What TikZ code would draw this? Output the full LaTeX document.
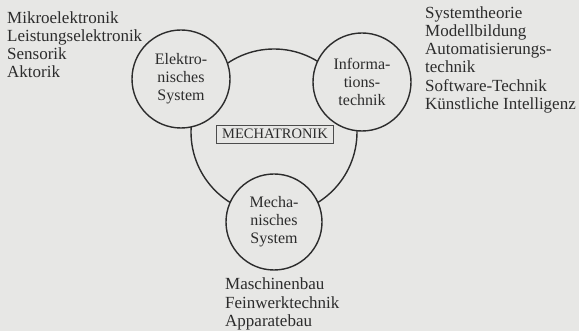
\documentclass[tikz,border=0pt]{standalone}
\usepackage{fontspec}
\setmainfont{Liberation Serif}
\definecolor{paper}{HTML}{E7E7E5}
\definecolor{ink}{HTML}{2C2C2C}
\begin{document}
\begin{tikzpicture}[x=1pt,y=-1pt,
  every node/.style={text=ink},
  disc/.style={circle, draw=ink, line width=1.4pt, fill=paper,
    minimum size=98pt, inner sep=0pt, align=center,
    font=\fontsize{16}{18}\selectfont},
  fieldlist/.style={align=left, inner sep=0pt,
    font=\fontsize{17}{18.2}\selectfont},
  mtbox/.style={draw=ink!85, line width=0.7pt, fill=paper,
    font=\fontsize{14.5}{15}\selectfont, inner xsep=6pt, inner ysep=4pt}]
\fill[paper] (0,0) rectangle (579,331);
\useasboundingbox (0,0) rectangle (579,331);
% large ring joining the three disciplines
\node[circle, draw=ink, line width=1.4pt, minimum size=166pt, inner sep=0pt] (ring) at (274,132) {};
% the three disciplines
\node[disc] (el) at (181,79) {Elektro-\\nisches\\System};
\node[disc] (inf) at (362,82) {Informa-\\tions-\\technik};
\node[disc, minimum size=96pt] (mech) at (274,222) {Mecha-\\nisches\\System};
\node[mtbox] (mt) at (275,134) {MECHATRONIK};
% fields belonging to each discipline
\node[fieldlist, anchor=north west] (elList) at (7,11.4)
  {Mikroelektronik\\Leistungselektronik\\Sensorik\\Aktorik};
\node[fieldlist, anchor=north west] (infList) at (425,6.4)
  {Systemtheorie\\Modellbildung\\Automatisierungs-\\technik\\Software-Technik\\Künstliche Intelligenz};
\node[fieldlist, anchor=north west] (mechList) at (225,278)
  {Maschinenbau\\Feinwerktechnik\\Apparatebau};
\end{tikzpicture}
\end{document}
